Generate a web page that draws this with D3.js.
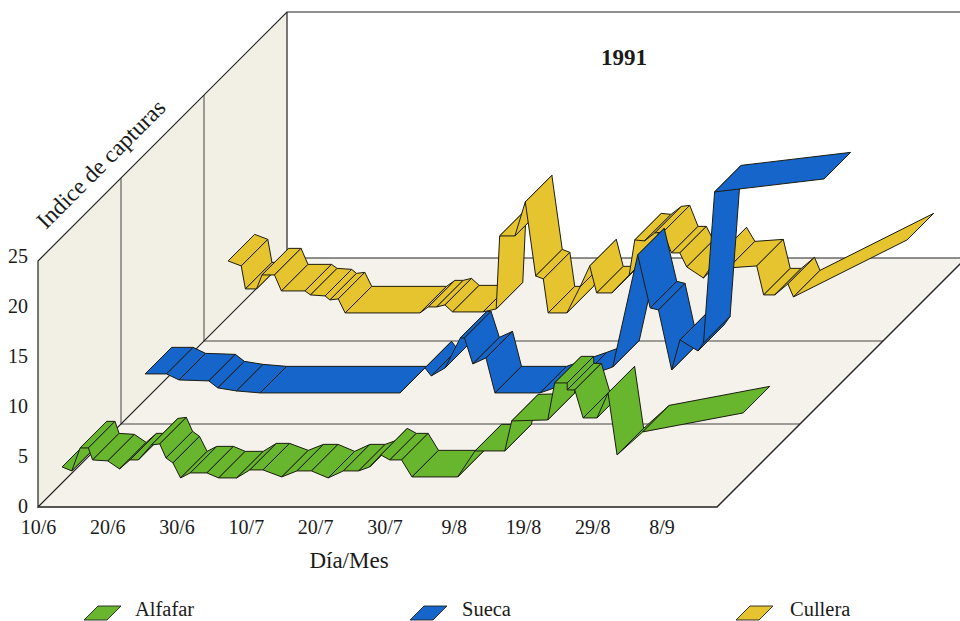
<!DOCTYPE html>
<html>
<head>
<meta charset="utf-8">
<script src="https://cdnjs.cloudflare.com/ajax/libs/d3/7.8.5/d3.min.js"></script>
<style>
  html, body { margin: 0; padding: 0; background: #fff; }
  svg { display: block; }
  text { font-family: "Liberation Serif", serif; fill: #1a1a1a; }
</style>
</head>
<body>
<div id="chart"></div>
<script>
// days since 10/6 and capture index
var alfafarDays = [0, 1.4, 2.6, 3.8, 4.4, 6.6, 8.3, 9.8, 11, 12.9, 14.1, 15, 16, 17.1, 18.5, 20.9, 22.6, 25.2, 27.1, 29, 31.7, 33.9, 36, 38.4, 40.6, 42.8, 44.4, 46, 47.3, 49, 50.5, 57.1, 59.6, 63.9, 64.9, 70.1, 71.1, 72.9, 72.9, 74, 75.2, 77.2, 78.8, 80.1, 83.8, 98.3];
var alfafarValues = [1.6, 1.2, 3.5, 3.5, 2.3, 2.2, 1.4, 2.3, 2.3, 3.8, 3.9, 2.5, 2, 0.5, 1, 1, 0.5, 0.5, 1.3, 1.3, 0.6, 1.2, 1.2, 0.5, 1.2, 1.2, 1.6, 2.8, 2.3, 2.3, 0.6, 0.6, 3.2, 3.2, 6.2, 6.3, 10, 10, 9.3, 9.3, 6.5, 6.5, 9, 2.8, 5.1, 7];

var suecaDays = [0, 3.1, 4.9, 9.2, 10.5, 13.2, 16.6, 36.8, 40.4, 41.3, 43.3, 45.5, 46.1, 47.3, 49.2, 50.5, 57, 62.8, 67.5, 71.1, 72.9, 74.1, 76, 77.2, 79.8, 80.6, 82.2, 98];
var suecaValues = [2.6, 2.6, 2, 1.9, 1.2, 0.9, 0.7, 0.7, 3.2, 2.4, 3.2, 6.2, 6.2, 3.6, 4.2, 0.7, 0.7, 2.1, 3.3, 14.5, 9.2, 9, 3, 6, 4.9, 5.7, 20.8, 22.1];

var culleraDays = [0, 1.9, 2.5, 4.1, 4.9, 6.7, 7.7, 11.1, 11.9, 14, 14.7, 15.9, 16.9, 27.7, 28.9, 30.1, 31.3, 32.4, 36.8, 38.7, 39.2, 41.4, 42.9, 44.4, 45.5, 46.2, 48.9, 50.8, 52.2, 53.2, 55.4, 57.9, 58.7, 60.1, 61.6, 62.8, 64, 65.2, 66.2, 68.6, 71, 72.2, 76.3, 77.3, 78.9, 80.8, 81.6, 98];
var culleraValues = [5.6, 5.1, 2.8, 2.8, 4.2, 4.2, 2.6, 2.6, 2.2, 2.1, 1.7, 1.8, 0.4, 0.4, 1, 1, 1.2, 0.5, 0.5, 0.8, 8.1, 8.1, 11.5, 4.1, 3.8, 0.4, 0.4, 3, 5.1, 2.4, 2.4, 4.2, 7.7, 7.6, 8.4, 8.5, 6.4, 6.4, 5, 3.9, 6.3, 4.9, 5.1, 2.2, 2.2, 3.3, 2, 7.7];

var seriesNames = ["Alfafar", "Sueca", "Cullera"];
var seriesColors = ["#68b62e", "#1565cb", "#e6c42f"];
var xTickDays = [0, 10, 20, 30, 40, 50, 60, 70, 80, 90];
var xTickLabels = ["10/6", "20/6", "30/6", "10/7", "20/7", "30/7", "9/8", "19/8", "29/8", "8/9"];
var yTicks = [0, 5, 10, 15, 20, 25];

var width = 960, height = 621;
var wallColor = "#f2efe4", floorColor = "#f4f2ea", lineColor = "#222";

var x = d3.scaleLinear().domain([0, 98]).range([38, 717]);
var y = d3.scaleLinear().domain([0, 25]).range([507, 257]);
// depth runs up and to the right, one unit per series band
var depth = d3.scaleLinear().domain([0, 3]).range([0, 249]);

function pt(day, value, d) {
    return [x(day) + depth(d), y(value) - depth(d)];
}

var svg = d3.select("#chart").append("svg")
    .attr("width", width)
    .attr("height", height);

var line = d3.line();

// walls and floor
svg.append("path")
    .attr("d", line([pt(0, 0, 0), pt(0, 24.6, 0), pt(0, 24.6, 3), pt(0, 0, 3)]) + "Z")
    .attr("fill", wallColor)
    .attr("stroke", "none");
svg.append("path")
    .attr("d", line([pt(0, 0, 0), pt(98, 0, 0), pt(98, 0, 3), pt(0, 0, 3)]) + "Z")
    .attr("fill", floorColor)
    .attr("stroke", "none");

// grid lines of the box
[1, 2].forEach(function(d) {
    svg.append("path")
        .attr("d", line([pt(0, 24.6, d), pt(0, 0, d), pt(98, 0, d)]))
        .attr("fill", "none")
        .attr("stroke", "#444")
        .attr("stroke-width", 1);
});
svg.append("path")
    .attr("d", line([[pt(0, 0, 3)[0], 12], pt(0, 0, 3), [width, pt(0, 0, 3)[1]]]))
    .attr("fill", "none").attr("stroke", lineColor).attr("stroke-width", 1.2);
svg.append("path")
    .attr("d", line([[width, 12], [pt(0, 0, 3)[0], 12], pt(0, 24.6, 0), pt(0, 0, 0), pt(0, 0, 3)]))
    .attr("fill", "none").attr("stroke", lineColor).attr("stroke-width", 1.2);
svg.append("path")
    .attr("d", line([pt(0, 0, 0), pt(98, 0, 0), pt(98, 0, 3)]))
    .attr("fill", "none").attr("stroke", lineColor).attr("stroke-width", 1.4);

// ribbons: each segment is a quad between the front and back edge
function ribbon(days, values, band, color) {
    var front = band + 0.29, back = band + 0.61;
    var quads = d3.range(days.length - 1).map(function(i) {
        return [
            pt(days[i], values[i], front),
            pt(days[i + 1], values[i + 1], front),
            pt(days[i + 1], values[i + 1], back),
            pt(days[i], values[i], back)
        ];
    });
    svg.append("g").selectAll("path")
        .data(quads)
        .enter().append("path")
        .attr("d", function(d) { return line(d) + "Z"; })
        .attr("fill", color)
        .attr("stroke", "#1c1c10")
        .attr("stroke-width", 1)
        .attr("stroke-linejoin", "round");
}

ribbon(culleraDays, culleraValues, 2, seriesColors[2]);
ribbon(suecaDays, suecaValues, 1, seriesColors[1]);
ribbon(alfafarDays, alfafarValues, 0, seriesColors[0]);

// axes
var xAxis = svg.append("g")
    .attr("transform", "translate(0,507)")
    .call(d3.axisBottom(x).tickValues(xTickDays).tickSize(0).tickPadding(13)
        .tickFormat(function(d, i) { return xTickLabels[i]; }));
xAxis.select(".domain").remove();
xAxis.selectAll("text").style("font-family", '"Liberation Serif", serif').style("font-size", "20px").attr("fill", "#1a1a1a");

var yAxis = svg.append("g")
    .attr("transform", "translate(30,-1)")
    .call(d3.axisLeft(y).tickValues(yTicks).tickSize(0).tickPadding(2));
yAxis.select(".domain").remove();
yAxis.selectAll("text").style("font-family", '"Liberation Serif", serif').style("font-size", "20px").attr("fill", "#1a1a1a");

// titles
svg.append("text")
    .attr("x", 624).attr("y", 65)
    .attr("text-anchor", "middle")
    .style("font-size", "23px").style("font-weight", "bold")
    .text("1991");
svg.append("text")
    .attr("x", 349).attr("y", 568)
    .attr("text-anchor", "middle")
    .style("font-size", "23px")
    .text("Día/Mes");
svg.append("text")
    .attr("transform", "translate(46,230) rotate(-45)")
    .style("font-size", "23.5px")
    .text("Indice de capturas");

// legend
var legendX = [84, 410, 736], legendTextX = [135, 462, 790];
seriesNames.forEach(function(name, i) {
    svg.append("path")
        .attr("d", "M" + legendX[i] + ",620 L" + (legendX[i] + 14) + ",606 L" + (legendX[i] + 37) + ",606 L" + (legendX[i] + 23) + ",620 Z")
        .attr("fill", seriesColors[i])
        .attr("stroke", "#222")
        .attr("stroke-width", 0.9);
    svg.append("text")
        .attr("x", legendTextX[i]).attr("y", 616)
        .style("font-size", "20.5px")
        .text(name);
});
</script>
</body>
</html>
